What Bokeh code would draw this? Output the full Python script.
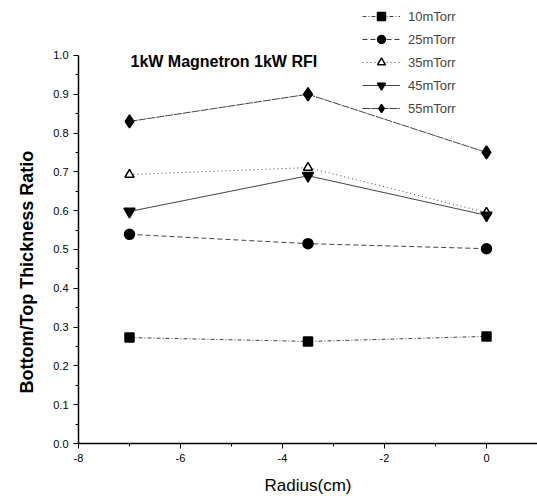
import math
from bokeh.plotting import figure
from bokeh.models import Legend, LegendItem, Label, Range1d, FixedTicker, CustomJSTickFormatter, Title
from bokeh.embed import file_html
from bokeh.resources import INLINE

radius = [-7.0, -3.5, 0.0]
series_names = ["10mTorr", "25mTorr", "35mTorr", "45mTorr", "55mTorr"]
ratio_10 = [0.273, 0.263, 0.276]
ratio_25 = [0.539, 0.515, 0.502]
ratio_35 = [0.693, 0.711, 0.595]
ratio_45 = [0.598, 0.690, 0.588]
ratio_55 = [0.830, 0.900, 0.750]
x_ticks = [-8, -6, -4, -2, 0]
y_ticks = [0.0, 0.1, 0.2, 0.3, 0.4, 0.5, 0.6, 0.7, 0.8, 0.9, 1.0]

FONT = "Liberation Sans"

p = figure(width=537, height=501, output_backend="svg", toolbar_location=None,
           x_range=Range1d(-8, 1.0), y_range=Range1d(0, 1.139),
           min_border_left=78, min_border_bottom=58, min_border_top=1, min_border_right=0)
p.outline_line_color = None
p.grid.visible = False
p.background_fill_color = "white"

p.xaxis.ticker = FixedTicker(ticks=x_ticks, minor_ticks=[-7, -5, -3, -1])
p.yaxis.ticker = FixedTicker(ticks=y_ticks, minor_ticks=[0.05 + 0.1 * i for i in range(10)])
p.yaxis.bounds = (0, 1.0)
p.yaxis.formatter = CustomJSTickFormatter(code="return tick.toFixed(1);")
p.xaxis.formatter = CustomJSTickFormatter(code="return tick.toFixed(0);")

for ax in (p.xaxis, p.yaxis):
    ax.axis_line_color = "black"
    ax.axis_line_width = 1.5
    ax.major_tick_line_color = "black"
    ax.minor_tick_line_color = "black"
    ax.major_tick_out = 5
    ax.major_tick_in = 0
    ax.minor_tick_out = 3
    ax.minor_tick_in = 0
    ax.major_label_text_font = FONT
    ax.major_label_text_font_size = "11px"
    ax.major_label_text_color = "black"
    ax.axis_label_text_font = FONT
    ax.axis_label_text_color = "black"

p.xaxis.axis_label = "Radius(cm)"
p.xaxis.axis_label_text_font_size = "17px"
p.xaxis.axis_label_text_font_style = "normal"
p.xaxis.axis_label_standoff = 11

ytitle = Title(text="Bottom/Top Thickness Ratio", align="left", offset=50,
               text_font=FONT, text_font_size="18px", text_font_style="bold",
               text_color="black", standoff=28)
p.add_layout(ytitle, "left")

line_col = "#444444"
specs = [
    (ratio_10, "square", "4 2 1 2", "black", 9),
    (ratio_25, "circle", "5 3", "black", 10),
    (ratio_35, "triangle", "1 3", "white", 9),
    (ratio_45, "inverted_triangle", "solid", "black", 11),
    (ratio_55, "diamond", "8 1", "black", 13),
]

items = []
for name, (vals, marker, dash, fill, size) in zip(series_names, specs):
    ln = p.line(radius, vals, line_color=line_col, line_width=1, line_dash=dash)
    sc = p.scatter(radius, vals, marker=marker, size=size, fill_color=fill,
                   line_color="black", line_width=1.5)
    items.append(LegendItem(label=name, renderers=[ln, sc]))

legend = Legend(items=items, location=(284, 325), background_fill_alpha=0,
                border_line_color=None, glyph_width=38, glyph_height=20,
                label_height=20, spacing=3, padding=5, label_standoff=8,
                label_text_font=FONT, label_text_font_size="13px")
p.add_layout(legend)

title = Label(x=52, y=382, x_units="screen", y_units="screen",
              text="1kW Magnetron 1kW RFI", text_font=FONT, text_font_size="16px",
              text_font_style="bold", text_baseline="middle", text_color="black")
p.add_layout(title)

open("out.html", "w").write(file_html(p, INLINE))
